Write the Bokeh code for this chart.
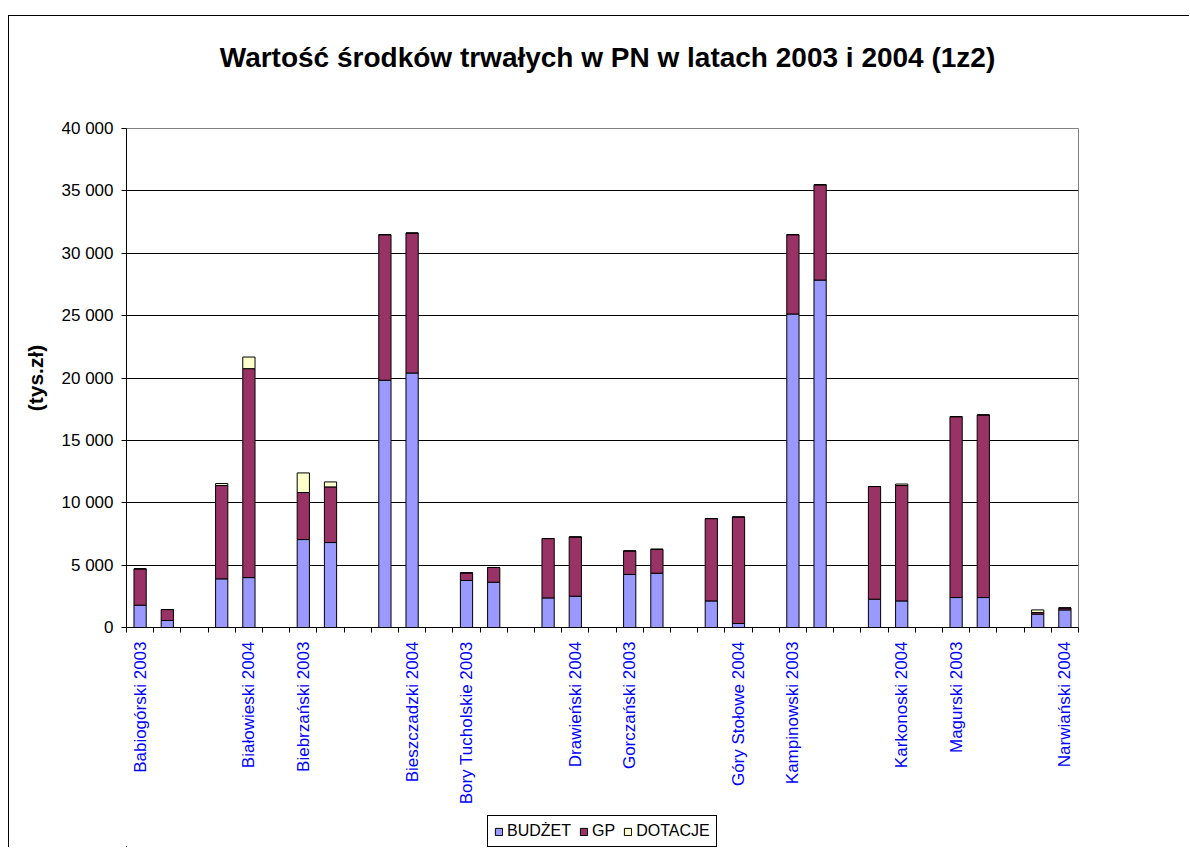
import math
from bokeh.plotting import figure
from bokeh.layouts import column
from bokeh.models import (ColumnDataSource, FixedTicker, CustomJSTickFormatter, Legend,
                          LegendItem, Range1d, Label)
from bokeh.embed import file_html
from bokeh.resources import INLINE

# ---- data ----
title_text = "Wartość środków trwałych w PN w latach 2003 i 2004 (1z2)"
y_title = "(tys.zł)"
parks = ["Babiogórski", "Białowieski", "Biebrzański", "Bieszczadzki", "Bory Tucholskie",
         "Drawieński", "Gorczański", "Góry Stołowe", "Kampinowski", "Karkonoski",
         "Magurski", "Narwiański"]
years = ["2003", "2004"]

budzet_2003 = [1790, 3900, 7050, 19820, 3770, 2370, 4250, 2130, 25130, 2270, 2400, 1070]
gp_2003     = [2910, 7480, 3770, 11670, 610, 4760, 1890, 6600, 6360, 9030, 14500, 130]
dot_2003    = [0, 160, 1570, 0, 0, 0, 0, 0, 0, 0, 0, 210]

budzet_2004 = [560, 4000, 6810, 20400, 3630, 2510, 4350, 320, 27850, 2130, 2400, 1410]
gp_2004     = [880, 16750, 4460, 11220, 1180, 4750, 1920, 8540, 7640, 9250, 14640, 160]
dot_2004    = [0, 930, 400, 0, 0, 0, 0, 0, 0, 120, 0, 0]

series = ["BUDŻET", "GP", "DOTACJE"]
colors = ["#9999FF", "#993366", "#FFFFCC"]
y_ticks = [0, 5000, 10000, 15000, 20000, 25000, 30000, 35000, 40000]

# ---- build slots: each park -> 2003, 2004, blank (last blank dropped) ----
xs, b, g, d, slot_names = [], [], [], [], []
for i, park in enumerate(parks):
    for j, yr in enumerate(years):
        xs.append(3 * i + j)
        slot_names.append(f"{park} {yr}")
    b += [budzet_2003[i], budzet_2004[i]]
    g += [gp_2003[i], gp_2004[i]]
    d += [dot_2003[i], dot_2004[i]]
    if i < len(parks) - 1:
        slot_names.append("")
n_slots = len(slot_names)

src = ColumnDataSource(dict(x=xs, BUDZET=b, GP=g, DOTACJE=d))

# Excel shows every second category label
label_slots = [s for s in range(0, n_slots, 2) if slot_names[s]]

font = "Liberation Sans"
W = 1180
BL, BR = 117, 111


def blank_fig(h):
    f = figure(width=W, height=h, output_backend="svg", toolbar_location=None,
               x_range=Range1d(0, 1), y_range=Range1d(0, h),
               min_border_left=BL, min_border_right=BR, min_border_top=0, min_border_bottom=0,
               background_fill_color="white", border_fill_color="white")
    f.axis.visible = False
    f.grid.visible = False
    f.outline_line_color = None
    return f


# ---- title strip ----
TH = 70
pt = blank_fig(TH)
pt.add_layout(Label(x=0.5, y=TH - 41, x_offset=5, text=title_text,
                    text_font=font, text_font_size="28px", text_font_style="bold",
                    text_color="black", text_align="center", text_baseline="middle"))

# ---- main chart ----
p = figure(width=W, height=792 - TH, output_backend="svg", toolbar_location=None,
           x_range=Range1d(-0.5, n_slots - 0.5), y_range=Range1d(0, 40000),
           min_border_left=BL, min_border_right=BR, min_border_top=112 - TH,
           min_border_bottom=181,
           background_fill_color="white", border_fill_color="white")

renderers = p.vbar_stack(["BUDZET", "GP", "DOTACJE"], x="x", width=0.45, source=src,
                         fill_color=colors, line_color="black", line_width=1)

p.outline_line_color = "#808080"
p.outline_line_width = 1
p.xgrid.grid_line_color = None
p.ygrid.grid_line_color = "black"
p.ygrid.grid_line_width = 1
p.ygrid.ticker = FixedTicker(ticks=y_ticks)

# y axis
ya = p.yaxis[0]
ya.ticker = FixedTicker(ticks=y_ticks)
ya.formatter = CustomJSTickFormatter(code="""
    return Math.round(tick).toString().replace(/\\B(?=(\\d{3})+(?!\\d))/g, ' ');
""")
ya.major_tick_out = 5
ya.major_tick_in = 0
ya.minor_tick_line_color = None
ya.axis_line_color = "black"
ya.major_tick_line_color = "black"
ya.major_label_text_font = font
ya.major_label_text_font_size = "17px"
ya.major_label_text_color = "black"
ya.major_label_standoff = 8
ya.axis_label = y_title
ya.axis_label_text_font = font
ya.axis_label_text_font_size = "21px"
ya.axis_label_text_font_style = "bold"
ya.axis_label_text_color = "black"
ya.axis_label_standoff = 12

# x axis
xa = p.xaxis[0]
xa.ticker = FixedTicker(ticks=label_slots,
                        minor_ticks=[s - 0.5 for s in range(n_slots + 1)])
xa.formatter = CustomJSTickFormatter(args=dict(labels=slot_names),
                                     code="return labels[Math.round(tick)] || '';")
xa.major_tick_line_color = None
xa.major_tick_out = 0
xa.major_tick_in = 0
xa.minor_tick_line_color = "black"
xa.minor_tick_out = 5
xa.minor_tick_in = 0
xa.axis_line_color = "black"
xa.major_label_orientation = math.pi / 2
xa.major_label_text_font = font
xa.major_label_text_font_size = "17px"
xa.major_label_text_color = "#0000FF"
xa.major_label_standoff = 9

# ---- legend strip below the chart ----
LH = 39
pl = blank_fig(LH)
leg_r = [pl.vbar(x=[-10], top=[1], bottom=[0], width=0.1, fill_color=c,
                 line_color="black", line_width=1) for c in colors]
legend = Legend(items=[LegendItem(label=s, renderers=[r]) for s, r in zip(series, leg_r)],
                orientation="horizontal", location=(361, 0),
                label_text_font=font, label_text_font_size="16px", label_text_color="black",
                glyph_width=9, glyph_height=9, label_standoff=4, spacing=8,
                padding=6, margin=0, border_line_color="black", border_line_width=1,
                border_line_alpha=1.0,
                background_fill_color="white", background_fill_alpha=1.0,
                label_height=14, label_width=10)
pl.add_layout(legend)

layout = column(pt, p, pl, spacing=0,
                styles={"border-left": "1px solid black", "border-top": "1px solid black",
                        "margin-left": "8px", "margin-top": "15px"})

open("out.html", "w").write(file_html(layout, INLINE))
